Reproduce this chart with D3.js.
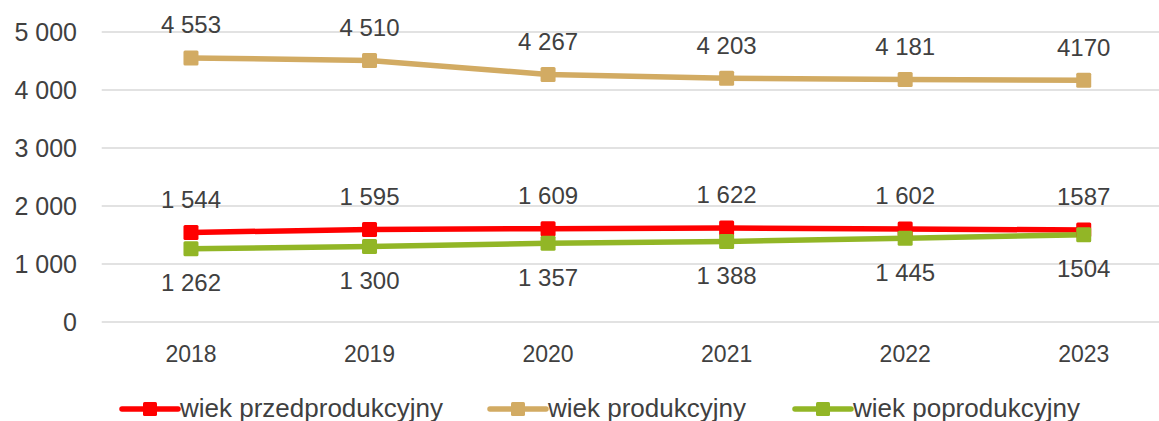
<!DOCTYPE html>
<html lang="pl">
<head>
    <meta charset="UTF-8">
    <title>Ludność wg ekonomicznych grup wieku</title>
    <script src="https://d3js.org/d3.v7.min.js"></script>
    <style>
        body { margin: 0; background: #fff; }
        text { font-family: "Liberation Sans", Arial, sans-serif; fill: #404040; }
    </style>
</head>
<body>
<div id="wykres"></div>
<script>
    // dane
    var lata = ["2018", "2019", "2020", "2021", "2022", "2023"];
    var przedprodukcyjny = [1544, 1595, 1609, 1622, 1602, 1587];
    var produkcyjny = [4553, 4510, 4267, 4203, 4181, 4170];
    var poprodukcyjny = [1262, 1300, 1357, 1388, 1445, 1504];
    var osY = [0, 1000, 2000, 3000, 4000, 5000];
    var nazwy = ["wiek przedprodukcyjny", "wiek produkcyjny", "wiek poprodukcyjny"];

    var serie = [
        { nazwa: nazwy[0], wartosci: przedprodukcyjny, kolor: "#ff0000", pozycja: "gora" },
        { nazwa: nazwy[1], wartosci: produkcyjny, kolor: "#d2ab63", pozycja: "gora" },
        { nazwa: nazwy[2], wartosci: poprodukcyjny, kolor: "#92b626", pozycja: "dol" }
    ];

    var W = 1159, H = 421;
    var svg = d3.select("#wykres").append("svg").attr("width", W).attr("height", H);

    // skale
    var x = d3.scaleBand().domain(lata).range([101.7, 1173]);
    var y = d3.scaleLinear().domain([0, 5000]).range([322, 32]);
    var srodek = d => x(d) + x.bandwidth() / 2;

    var pl = d3.formatLocale({ decimal: ",", thousands: " ", grouping: [3], currency: ["", " zł"] });
    var fmt = pl.format(",d");
    // ostatni rok w oryginale bez spacji
    var etykieta = (v, i) => i == lata.length - 1 ? String(v) : fmt(v);

    // siatka
    svg.append("g").selectAll("line").data(osY).join("line")
        .attr("x1", 101.7).attr("x2", W)
        .attr("y1", d => y(d)).attr("y2", d => y(d))
        .attr("stroke", "#d9d9d9").attr("stroke-width", 1.5);

    // os Y
    var gy = svg.append("g").attr("transform", "translate(77,0)")
        .call(d3.axisLeft(y).tickValues(osY).tickSize(0).tickPadding(0).tickFormat(fmt));
    gy.select(".domain").remove();
    gy.selectAll("text").attr("font-size", 25).attr("dy", "0.35em").style("font-family", null);

    // os X
    var gx = svg.append("g").attr("transform", "translate(0,322)")
        .call(d3.axisBottom(x).tickSize(0).tickPadding(0));
    gx.select(".domain").remove();
    gx.selectAll("text").attr("font-size", 23).attr("y", 32).attr("dy", "0.35em").style("font-family", null);

    // linie
    var linia = d3.line().x((d, i) => srodek(lata[i])).y(d => y(d));

    serie.forEach(s => {
        svg.append("path").datum(s.wartosci)
            .attr("d", linia)
            .attr("fill", "none").attr("stroke", s.kolor)
            .attr("stroke-width", 5.5).attr("stroke-linejoin", "round");
    });
    serie.forEach(s => {
        svg.append("g").selectAll("rect").data(s.wartosci).join("rect")
            .attr("x", (d, i) => srodek(lata[i]) - 7.5)
            .attr("y", d => y(d) - 7.5)
            .attr("width", 15).attr("height", 15).attr("rx", 1.5)
            .attr("fill", s.kolor);
    });

    // etykiety danych
    serie.forEach(s => {
        svg.append("g").selectAll("text").data(s.wartosci).join("text")
            .attr("x", (d, i) => srodek(lata[i]))
            .attr("y", d => s.pozycja == "gora" ? y(d) - 33 : y(d) + 34)
            .attr("dy", "0.35em")
            .attr("text-anchor", "middle").attr("font-size", 24)
            .text((d, i) => etykieta(d, i));
    });

    // legenda
    var legX = [122, 490, 795];
    var leg = svg.append("g").selectAll("g").data(serie).join("g")
        .attr("transform", (d, i) => "translate(" + legX[i] + ",409)");
    leg.append("line").attr("x1", 0).attr("x2", 56).attr("y1", 0).attr("y2", 0)
        .attr("stroke", d => d.kolor).attr("stroke-width", 5.5).attr("stroke-linecap", "round");
    leg.append("rect").attr("x", 21).attr("y", -7).attr("width", 14).attr("height", 14).attr("rx", 1.5)
        .attr("fill", d => d.kolor);
    leg.append("text").attr("x", 58).attr("y", 7.5).attr("font-size", 26)
        .text(d => d.nazwa);
</script>
</body>
</html>
